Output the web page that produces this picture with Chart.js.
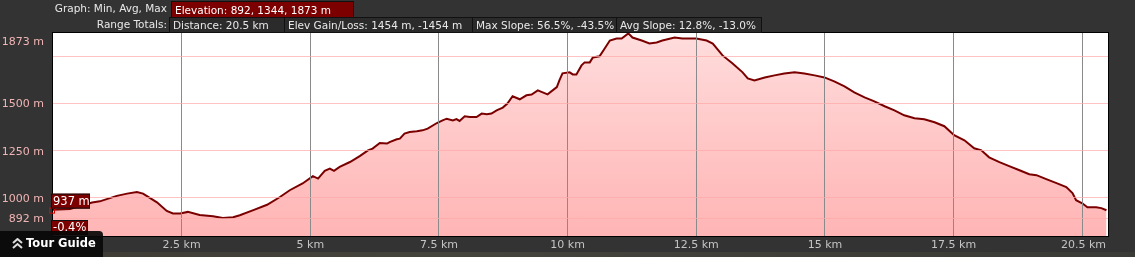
<!DOCTYPE html>
<html>
<head>
<meta charset="utf-8">
<script src="https://cdn.jsdelivr.net/npm/chart.js@4"></script>
<style>
  html, body { margin:0; padding:0; background:#333; overflow:hidden; }
  #wrap { position:relative; width:1135px; height:257px; font-family:"DejaVu Sans", sans-serif; }
  #c { position:absolute; left:0; top:0; }
  .lbl { position:absolute; color:#e8e8e8; font-size:10.5px; text-align:right; }
  .box { position:absolute; font-size:10.5px; color:#e8e8e8; border:1px solid #111; box-sizing:border-box; padding:0 3px; line-height:15px; white-space:nowrap; background:#2b2b2b; }
  .box.red { background:#7d0000; color:#fff; line-height:16px; }
  #tour { position:absolute; left:0; top:231px; width:103px; height:26px; background:rgba(8,8,8,0.92); border-top-right-radius:4px; color:#fff; font-weight:bold; font-size:11.5px; line-height:24px; }
  #tour svg { position:absolute; left:12px; top:7px; }
  #tour span { position:absolute; left:26px; top:0; }
  #map { position:absolute; left:0; top:252px; width:1135px; height:5px; background:linear-gradient(90deg,#3e3b35,#44433c 40%,#3a3a36); }
</style>
</head>
<body>
<div id="wrap">
  <canvas id="c" width="1135" height="257"></canvas>
  <div id="map"></div>
  <div class="lbl" style="left:40px; width:127px; top:2px;">Graph: Min, Avg, Max</div>
  <div class="box red" style="left:171px; top:1px; width:183px; height:17px;">Elevation: 892, 1344, 1873 m</div>
  <div class="lbl" style="left:40px; width:127px; top:18px;">Range Totals:</div>
  <div class="box" style="left:169px; top:17px; width:116px; height:16px;">Distance: 20.5 km</div>
  <div class="box" style="left:284px; top:17px; width:189px; height:16px;">Elev Gain/Loss: 1454 m, -1454 m</div>
  <div class="box" style="left:472px; top:17px; width:145px; height:16px;">Max Slope: 56.5%, -43.5%</div>
  <div class="box" style="left:616px; top:17px; width:146px; height:16px;">Avg Slope: 12.8%, -13.0%</div>
  <div id="tour"><svg width="11" height="11" viewBox="0 0 11 11"><path d="M1 5 L5.5 1 L10 5 M1 10 L5.5 6 L10 10" stroke="#ddd" stroke-width="2" fill="none"/></svg><span>Tour Guide</span></div>
</div>
<script>
// distance along route (km) and elevation (m)
const distKm = [0.00,0.33,0.76,0.91,1.24,1.44,1.63,1.75,2.02,2.21,2.33,2.47,2.62,2.85,3.11,3.30,3.50,3.63,3.88,4.16,
  4.41,4.60,4.85,5.05,5.15,5.28,5.38,5.46,5.57,5.77,5.96,6.12,6.21,6.35,6.49,6.54,6.68,6.74,6.83,6.93,
  7.07,7.18,7.28,7.46,7.57,7.65,7.77,7.84,7.90,8.00,8.10,8.23,8.33,8.43,8.52,8.62,8.74,8.83,8.93,9.07,
  9.20,9.30,9.42,9.61,9.79,9.84,9.90,10.04,10.10,10.17,10.27,10.33,10.43,10.49,10.62,10.72,10.82,10.95,11.05,11.18,
  11.26,11.44,11.59,11.73,11.84,12.08,12.23,12.50,12.70,12.82,13.01,13.20,13.40,13.50,13.63,13.83,14.02,14.21,14.41,14.60,
  14.80,14.99,15.18,15.38,15.57,15.77,15.96,16.16,16.35,16.54,16.74,16.93,17.13,17.32,17.51,17.71,17.90,18.04,18.19,18.39,
  18.58,18.78,18.97,19.11,19.30,19.50,19.69,19.81,19.88,20.00,20.10,20.27,20.37,20.47];
const elevM = [937,940,975,981,1010,1022,1031,1022,976,930,917,917,925,909,902,893,897,907,933,963,
  1004,1040,1076,1115,1102,1143,1155,1143,1164,1190,1221,1252,1261,1291,1288,1296,1311,1314,1341,1349,
  1353,1358,1367,1397,1411,1420,1411,1418,1408,1433,1429,1429,1447,1443,1447,1464,1479,1500,1539,1523,
  1544,1548,1570,1549,1588,1623,1661,1666,1655,1655,1703,1719,1719,1745,1751,1793,1835,1846,1846,1873,
  1851,1835,1819,1825,1835,1851,1846,1846,1835,1819,1756,1714,1666,1634,1623,1639,1650,1660,1666,1660,
  1650,1639,1618,1592,1560,1533,1512,1486,1464,1438,1422,1417,1401,1380,1332,1305,1263,1252,1215,1189,
  1168,1146,1125,1120,1099,1078,1057,1025,987,971,950,950,945,934];

const yTicks = [892, 1000, 1250, 1500, 1750, 1873];
const yLabels = ['892 m', '1000 m', '1250 m', '1500 m', '', '1873 m'];
const xTicks = [0, 2.5, 5, 7.5, 10, 12.5, 15, 17.5, 20, 20.5];
const xLabels = ['', '2.5 km', '5 km', '7.5 km', '10 km', '12.5 km', '15 km', '17.5 km', '', '20.5 km'];
const startSlope = '-0.4%';

const points = distKm.map((d, i) => ({ x: d, y: elevM[i] }));

const frame = {
  id: 'frame',
  beforeDraw(chart) {
    const { ctx, chartArea: a } = chart;
    ctx.save();
    ctx.fillStyle = '#333';
    ctx.fillRect(0, 0, chart.width, chart.height);
    ctx.fillStyle = '#fff';
    ctx.fillRect(a.left, a.top, a.right - a.left, a.bottom - a.top);
    ctx.restore();
  },
  afterDraw(chart) {
    const { ctx, chartArea: a, scales } = chart;
    ctx.save();
    // plot border
    ctx.strokeStyle = '#000';
    ctx.lineWidth = 1;
    ctx.strokeRect(a.left - 0.5, a.top - 0.5, a.right - a.left + 1, a.bottom - a.top + 1);
    // y labels
    ctx.font = '11px "DejaVu Sans"';
    ctx.fillStyle = '#f0b4b4';
    ctx.textAlign = 'right';
    ctx.textBaseline = 'middle';
    yTicks.forEach((v, i) => {
      if (!yLabels[i]) return;
      const y = Math.max(scales.y.getPixelForValue(v) + 1, a.top + 9);
      ctx.fillText(yLabels[i], 44, y);
    });
    // x labels
    ctx.fillStyle = '#c4c4c4';
    ctx.textBaseline = 'middle';
    xTicks.forEach((v, i) => {
      if (!xLabels[i]) return;
      const x = scales.x.getPixelForValue(v);
      const last = i === xTicks.length - 1;
      ctx.textAlign = last ? 'right' : 'center';
      ctx.fillText(xLabels[i], last ? x - 2 : x, 245);
    });
    // start-point marker and badges
    const px = scales.x.getPixelForValue(distKm[0]);
    const py = scales.y.getPixelForValue(elevM[0]);
    ctx.strokeStyle = '#d00';
    ctx.strokeRect(px - 3.5, py - 1.5, 5, 5);
    const badge = (txt, x, y, w) => {
      ctx.fillStyle = '#7d0000';
      ctx.fillRect(x, y, w, 15);
      ctx.strokeStyle = '#111';
      ctx.strokeRect(x + 0.5, y + 0.5, w - 1, 14);
      ctx.fillStyle = '#fff';
      ctx.font = '11.5px "DejaVu Sans"';
      ctx.textAlign = 'left';
      ctx.fillText(txt, x + 2, y + 8);
    };
    badge(elevM[0] + ' m', px - 2, py - 16, 39);
    badge(startSlope, px - 2, 220, 37);
    ctx.restore();
  }
};

new Chart(document.getElementById('c'), {
  type: 'line',
  data: {
    datasets: [{
      data: points,
      borderColor: '#7a0000',
      borderWidth: 2,
      pointRadius: 0,
      tension: 0,
      fill: 'start',
      backgroundColor: (c) => {
        const a = c.chart.chartArea;
        if (!a) return '#ffc0c0';
        const g = c.chart.ctx.createLinearGradient(0, a.top, 0, a.bottom);
        g.addColorStop(0, 'rgba(255,215,215,0.85)');
        g.addColorStop(1, 'rgba(255,160,160,0.78)');
        return g;
      }
    }]
  },
  options: {
    responsive: false,
    animation: false,
    events: [],
    layout: { padding: { left: 53, right: 27, top: 33, bottom: 21 } },
    plugins: { legend: { display: false }, tooltip: { enabled: false } },
    scales: {
      x: {
        type: 'linear', min: 0, max: 20.5,
        afterBuildTicks: (s) => { s.ticks = xTicks.map(v => ({ value: v })); },
        ticks: { display: false },
        grid: { color: (c) => c.tick && (c.tick.value === 0 || c.tick.value === 20.5) ? 'rgba(0,0,0,0)' : '#8a8a8a', drawTicks: false, z: 1 },
        border: { display: false }
      },
      y: {
        min: 797, max: 1875,
        afterBuildTicks: (s) => { s.ticks = yTicks.map(v => ({ value: v })); },
        ticks: { display: false },
        grid: { color: (c) => c.tick && c.tick.value === 1873 ? 'rgba(0,0,0,0)' : 'rgba(255,170,170,0.7)', drawTicks: false, z: 1 },
        border: { display: false }
      }
    }
  },
  plugins: [frame]
});
</script>
</body>
</html>
